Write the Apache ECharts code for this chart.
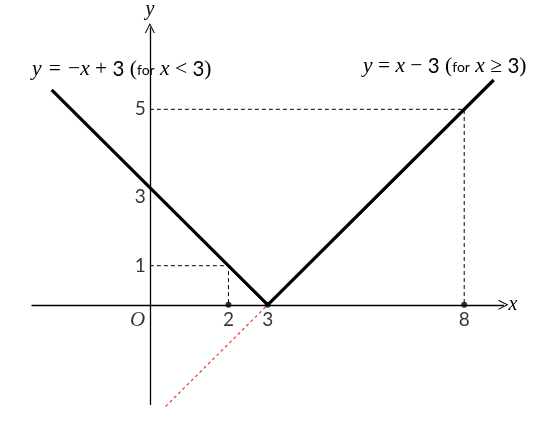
<!DOCTYPE html>
<html>
<head>
<meta charset="utf-8">
<script src="https://cdn.jsdelivr.net/npm/echarts@6/dist/echarts.min.js"></script>
<style>html,body{margin:0;padding:0;background:#fff}#c{width:556px;height:428px}</style>
</head>
<body>
<div id="c"></div>
<script>
const xRange = [-3, 9];
const yRange = [-2.55, 7.08];
const xTickLabels = [2, 3, 8];
const yTickLabels = [1, 3, 5];
const leftBranch = [[-2.5, 5.5], [3, 0]];
const rightBranch = [[3, 0], [8.75, 5.75]];
const extension = [[0.4, -2.6], [3, 0]];
const guideAt2 = [[0, 1], [2, 1], [2, 0]];
const guideAt8 = [[0, 5], [8, 5], [8, 0]];
const markedPoints = [[2, 0], [8, 0], [3, 0]];
const originPoint = [[0, 0]];

const chevron = 'path://M0,10 L5,0 L10,10 L8.9,10 L5,2.2 L1.1,10 Z';
const serif = 'Liberation Serif';
const sans = 'Lato';
const hs = '\u200A';

const rich = {
  i: { fontFamily: serif, fontStyle: 'italic', fontWeight: 'normal', fontSize: 21.5, color: '#000' },
  m: { fontFamily: serif, fontWeight: 'normal', fontSize: 21.5, color: '#000' },
  n: { fontFamily: sans, fontWeight: 'normal', fontSize: 20.5, color: '#000' },
  s: { fontFamily: sans, fontWeight: 'normal', fontSize: 14, color: '#000', padding: [3, 0, 0, 0] }
};

const leftText = '{i|y}{m| ' + hs + '=' + hs + ' −}{i|x}{m| + }{n|3}{m| (}{s|for}{i| x}{m| < }{n|3}{m|)}';
const rightText = '{i|y}{m| = }{i|x}{m| − }{n|3}{m| (}{s|for}{i| x}{m| ≥ }{n|3}{m|)}';

const tickLabel = { show: true, fontFamily: sans, fontSize: 19, color: '#000' };

const chart = echarts.init(document.getElementById('c'));
chart.setOption({
  animation: false,
  title: [
    { left: 27, top: 53, text: leftText, textStyle: { fontWeight: 'normal', rich } },
    { left: 358, top: 50, text: rightText, textStyle: { fontWeight: 'normal', rich } }
  ],
  grid: { left: 32, right: 52.5, top: 28, bottom: 23.5 },
  xAxis: {
    type: 'value', min: xRange[0], max: xRange[1],
    name: 'x', nameLocation: 'end', nameGap: 5,
    nameTextStyle: { fontFamily: serif, fontStyle: 'italic', fontSize: 20, color: '#000', verticalAlign: 'middle' },
    axisLine: { onZero: true, lineStyle: { color: '#000', width: 1.3 }, symbol: ['none', chevron], symbolSize: [13, 10] },
    axisTick: { show: false },
    splitLine: { show: false },
    axisLabel: { show: false }
  },
  yAxis: {
    type: 'value', min: yRange[0], max: yRange[1],
    name: 'y', nameLocation: 'end', nameGap: 8,
    nameTextStyle: { fontFamily: serif, fontStyle: 'italic', fontSize: 20, color: '#000', align: 'center' },
    axisLine: { onZero: true, lineStyle: { color: '#000', width: 1.3 }, symbol: ['none', chevron], symbolSize: [13, 10] },
    axisTick: { show: false },
    splitLine: { show: false },
    axisLabel: { show: false }
  },
  series: [
    { type: 'line', data: guideAt2, symbol: 'none', lineStyle: { color: '#000', width: 1, type: [4, 3] }, z: 2 },
    { type: 'line', data: guideAt8, symbol: 'none', lineStyle: { color: '#000', width: 1, type: [4, 3] }, z: 2 },
    { type: 'line', data: extension, symbol: 'none', clip: false, lineStyle: { color: '#e53935', width: 1.2, type: [3, 3] }, z: 2 },
    { type: 'line', data: leftBranch, symbol: 'none', lineStyle: { color: '#000', width: 3.2 }, z: 3 },
    { type: 'line', data: rightBranch, symbol: 'none', lineStyle: { color: '#000', width: 3.2 }, z: 3 },
    { type: 'scatter', data: markedPoints, symbol: 'circle', symbolSize: 6, itemStyle: { color: '#000' }, z: 4 },
    { type: 'scatter', data: xTickLabels.map(v => [v, 0]), symbolSize: 0, z: 4, silent: true,
      label: Object.assign({}, tickLabel, { formatter: p => String(p.value[0]), position: 'bottom', distance: 6 }) },
    { type: 'scatter', data: yTickLabels.map(v => [0, v]), symbolSize: 0, z: 4, silent: true,
      label: Object.assign({}, tickLabel, {
        formatter: p => p.value[1] === 3 ? '{lo|3}' : String(p.value[1]),
        position: 'left', distance: 4,
        rich: { lo: { fontFamily: sans, fontSize: 19, color: '#000', padding: [18, 0, 0, 0] } }
      }) },
    { type: 'scatter', data: originPoint, symbolSize: 0, z: 4, silent: true,
      label: { show: true, formatter: 'O', position: [-20, 5], fontFamily: serif, fontStyle: 'italic', fontSize: 21, color: '#000' } }
  ]
});
</script>
</body>
</html>
